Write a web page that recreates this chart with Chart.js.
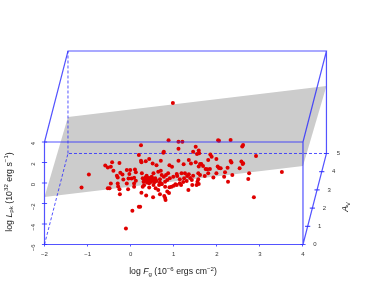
<!DOCTYPE html>
<html>
<head>
<meta charset="utf-8">
<style>
html, body { margin: 0; padding: 0; background: #fff; }
canvas { display: block; }
</style>
<script src="https://cdn.jsdelivr.net/npm/chart.js@4"></script>
</head>
<body>
<canvas id="grafico" width="374" height="307"></canvas>
<script>
// sources in front-plane units
const logF = [
  -1.14, -0.97, -0.59, -0.53, -0.46, -0.43, -0.26, -0.53, -0.49, -0.46, -0.30, -0.29, -0.26, -0.25, -0.06,
  -0.40, -0.32, -0.24, -0.19, -0.17, -0.09, -0.01, -0.03, 0.10, 0.12, -0.05, 0.02, 0.08, 0.12, 0.08, -0.09,
  0.04, 0.19, 0.22, -0.11, 0.24, 0.19, 0.24, 0.25, 0.35, 0.43, 0.51, 0.60, 0.70, 0.76, 0.77, 0.88, 1.11, 1.20,
  1.11, 0.90, 0.96, 1.11, 1.23,
  0.25, 0.28, 0.31, 0.36, 0.43, 0.52, 0.58, 0.64, 0.68, 0.66, 0.72, 0.78, 0.80, 0.81, 0.85, 0.89, 0.90, 0.95,
  1.00, 1.04, 0.80, 0.08,
  -0.30, 0.26, 0.28, 0.37, 0.30, 0.33, 0.41, 0.45, 0.49, 0.53, 0.47, 0.51, 0.43, 0.55, 0.57, 0.64, 0.70, 0.72,
  0.68, 0.60, 0.53, 0.41, 0.77, 0.82, 0.87, 0.99, 0.91, 0.85, 0.80, 0.68, 0.72, 1.07, 1.08, 1.18, 1.26, 1.31,
  1.24, 1.14, 1.14, 1.07, 1.34, 0.36, 0.46, 0.52, 0.38, 0.58, 0.35, 0.42,
  2.05, 2.03, 2.61, 2.59, 2.32, 1.58, 1.59, 1.54, 1.45, 1.51, 1.85, 1.88, 1.80, 1.99, 1.51, 1.35, 1.40, 1.61,
  1.64, 1.68, 1.58, 1.74, 1.78, 1.84, 2.02, 2.05, 2.09, 2.25, 2.32, 2.34, 2.57, 2.61, 2.60, 2.53, 2.75, 2.36,
  2.19, 2.17, 1.99, 1.80, 1.57, 1.61, 1.72, 1.92, 2.26, 2.73, 1.57, 1.55, 1.58, 1.53, 2.86, 3.51, 2.91, 1.43,
  1.17, 1.22, 1.30, 1.38, 1.42, 1.35, 1.45, 0.98
];
const logL = [
  -0.45, 0.84, 1.71, 1.52, 1.58, 2.03, 1.94, -0.52, -0.52, -0.06, -0.06, -0.35, -0.61, -1.10, -0.61,
  1.19, 0.71, 1.00, 0.84, 0.35, 1.26, 1.26, 0.87, 1.32, 1.06, 0.45, 0.45, 0.52, 0.23, -0.06, -0.06,
  -2.71, -2.32, -2.32, -4.45, 3.68, 2.74, 2.16, 2.03, 2.13, 2.35, 1.90, 1.74, 2.16, 2.94, 3.06, 4.16, 4.03, 4.03,
  3.35, 1.74, 1.58, 2.16, 1.84,
  -0.94, -0.36, -0.23, -1.23, -0.45, -1.40, -0.52, -0.68, -1.10, -0.19, -0.10, -1.27, -1.46, -1.66, -0.84, -0.97, -0.42, -0.36,
  -0.26, -0.13, -0.36, -0.36,
  0.53, 0.95, 0.46, 0.72, 0.13, 0.39, 0.13, 0.46, 0.62, 0.95, 0.13, 0.30, -0.03, 0.07, 0.46, 1.11, 1.20, 0.79,
  0.36, 0.20, -0.19, 0.36, 0.62, 0.79, 0.95, 0.62, 0.46, 0.30, 0.13, 0.04, -0.09, 0.88, 0.69, 0.95, 0.95, 0.69,
  0.46, 0.36, -0.03, -0.19, -0.68, 0.25, 0.25, 0.40, 0.05, 0.30, 0.55, 0.50,
  4.13, 4.17, 3.71, 3.55, 4.20, 3.16, 2.90, 2.83, 3.05, 3.54, 2.77, 2.57, 2.25, 2.35, 2.02, 2.24, 1.90, 1.86,
  1.86, 1.66, 1.60, 1.37, 1.34, 1.37, 1.60, 1.47, 1.44, 1.50, 2.15, 1.99, 2.09, 1.92, 1.86, 1.44, 0.95, 0.79,
  1.05, 0.62, 0.95, 0.95, 0.95, 0.79, 0.69, 0.53, 0.13, 0.39, 0.36, 0.13, -0.09, -0.19, -1.40, 1.07, 2.63, -0.20,
  -0.20, 0.10, 0.20, 0.50, 0.30, 0.85, 0.70, 7.80
];

const xTicks = [-2, -1, 0, 1, 2, 3, 4];
const yTicks = [-6, -4, -2, 0, 2, 4];
const avTicks = [0, 1, 2, 3, 4, 5];

// corners of the grey plane: [logF, logL, Av]
const planeCorners = [[-2, -1.37, 0], [4, 1.66, 0], [4, 0.58, 5], [-2, -2.44, 5]];

// how far one unit of Av moves a point on the page, in axis units
const avDx = 0.109;
const avDy = 1.776;
const project = (f, l, a) => ({ x: f + a * avDx, y: l + a * avDy });

const blue = "rgba(40, 40, 255, 0.8)";
const gap = { x: NaN, y: NaN };

// box edges as runs of corners
const solidRuns = [
  [[-2, -6, 0], [4, -6, 0], [4, 4, 0], [-2, 4, 0], [-2, -6, 0]],
  [[-2, 4, 0], [-2, 4, 5], [4, 4, 5], [4, 4, 0]],
  [[4, 4, 5], [4, -6, 5], [4, -6, 0]]
];
const dashedRuns = [
  [[-2, -6, 0], [-2, -6, 5], [4, -6, 5]],
  [[-2, -6, 5], [-2, 4, 5]]
];
const toPath = (runs) => runs.flatMap((r) => [...r.map((c) => project(...c)), gap]);

const tickPath = [
  ...yTicks.flatMap((v) => [{ x: -2 - 0.06, y: v }, { x: -2 + 0.06, y: v }, gap]),
  ...avTicks.flatMap((a) => {
    const p = project(4, -6, a);
    return [{ x: p.x - 0.06, y: p.y }, { x: p.x + 0.06, y: p.y }, gap];
  })
];

const lineDs = (data, order, extra) => ({
  data: data,
  type: "scatter",
  showLine: true,
  borderColor: blue,
  borderWidth: 1.2,
  pointRadius: 0,
  spanGaps: false,
  clip: false,
  order: order,
  ...extra
});

const sansFont = "'Liberation Sans', Arial, sans-serif";

// axis titles have italics and superscripts, so they go piece by piece
function drawRich(ctx, parts, size) {
  const widths = parts.map((p) => {
    ctx.font = (p.it ? "italic " : "") + size * (p.sc || 1) + "px " + sansFont;
    return ctx.measureText(p.t).width;
  });
  let x = -widths.reduce((a, b) => a + b, 0) / 2;
  parts.forEach((p, i) => {
    ctx.font = (p.it ? "italic " : "") + size * (p.sc || 1) + "px " + sansFont;
    ctx.fillText(p.t, x, p.dy || 0);
    x += widths[i];
  });
}

const textosPlugin = {
  id: "textos",
  afterDraw(chart) {
    const { ctx, scales } = chart;
    ctx.save();
    ctx.fillStyle = "#333";
    ctx.textBaseline = "middle";
    ctx.textAlign = "center";
    ctx.font = "6px " + sansFont;
    avTicks.forEach((a) => {
      const p = project(4, -6, a);
      ctx.fillText(String(a), scales.x.getPixelForValue(p.x) + 12, scales.y.getPixelForValue(p.y));
    });

    ctx.textAlign = "left";
    ctx.fillStyle = "#222";
    ctx.save();
    ctx.translate(173, 272);
    drawRich(ctx, [
      { t: "log " }, { t: "F", it: true }, { t: "g", sc: 0.7, dy: 2 }, { t: " (10" },
      { t: "−6", sc: 0.7, dy: -3 }, { t: " ergs cm" }, { t: "−2", sc: 0.7, dy: -3 }, { t: ")" }
    ], 8.7);
    ctx.restore();

    ctx.save();
    ctx.translate(9.5, 192);
    ctx.rotate(-Math.PI / 2);
    drawRich(ctx, [
      { t: "log " }, { t: "L", it: true }, { t: "pk", sc: 0.7, dy: 2 }, { t: " (10" },
      { t: "32", sc: 0.7, dy: -3 }, { t: " erg s" }, { t: "−1", sc: 0.7, dy: -3 }, { t: ")" }
    ], 8.8);
    ctx.restore();

    ctx.save();
    ctx.translate(346, 207);
    ctx.rotate(-Math.PI / 2);
    drawRich(ctx, [{ t: "A", it: true }, { t: "V", sc: 0.65, dy: 2 }], 8.8);
    ctx.restore();
    ctx.restore();
  }
};

const ctx = document.getElementById("grafico").getContext("2d");

const chart = new Chart(ctx, {
  type: "scatter",
  data: {
    datasets: [
      lineDs([...planeCorners, planeCorners[0]].map((c) => project(...c)), 5, {
        borderWidth: 0,
        backgroundColor: "#cccccc",
        fill: "shape"
      }),
      lineDs(toPath(dashedRuns), 4, { borderWidth: 1, borderDash: [3, 2] }),
      {
        label: "Sources",
        data: logF.map((f, i) => ({ x: f, y: logL[i] })),
        backgroundColor: "#e00000",
        borderWidth: 0,
        pointRadius: 2,
        clip: false,
        order: 3
      },
      lineDs(toPath(solidRuns), 2),
      lineDs(tickPath, 1)
    ]
  },
  options: {
    responsive: false,
    animation: false,
    layout: { padding: { top: 51, right: 47.5, left: 0, bottom: 0 } },
    plugins: { legend: { display: false }, tooltip: { enabled: false } },
    scales: {
      x: {
        type: "linear",
        min: -2,
        max: 4.546,
        afterBuildTicks: (s) => { s.ticks = xTicks.map((v) => ({ value: v })); },
        afterFit: (s) => { s.height = 62.5; },
        border: { display: false },
        grid: { drawOnChartArea: false, color: blue, tickLength: 2 },
        ticks: {
          color: "#333",
          padding: 4,
          maxRotation: 0,
          font: { size: 6, family: sansFont },
          callback: (v) => String(v).replace("-", "−")
        }
      },
      y: {
        type: "linear",
        min: -6,
        max: 12.88,
        afterBuildTicks: (s) => { s.ticks = yTicks.map((v) => ({ value: v })); },
        afterFit: (s) => { s.width = 44.5; },
        border: { display: false },
        grid: { display: false },
        ticks: {
          color: "#333",
          padding: 3,
          minRotation: 90,
          maxRotation: 90,
          font: { size: 6, family: sansFont },
          callback: (v) => String(v).replace("-", "−")
        }
      }
    }
  },
  plugins: [textosPlugin]
});
</script>
</body>
</html>
